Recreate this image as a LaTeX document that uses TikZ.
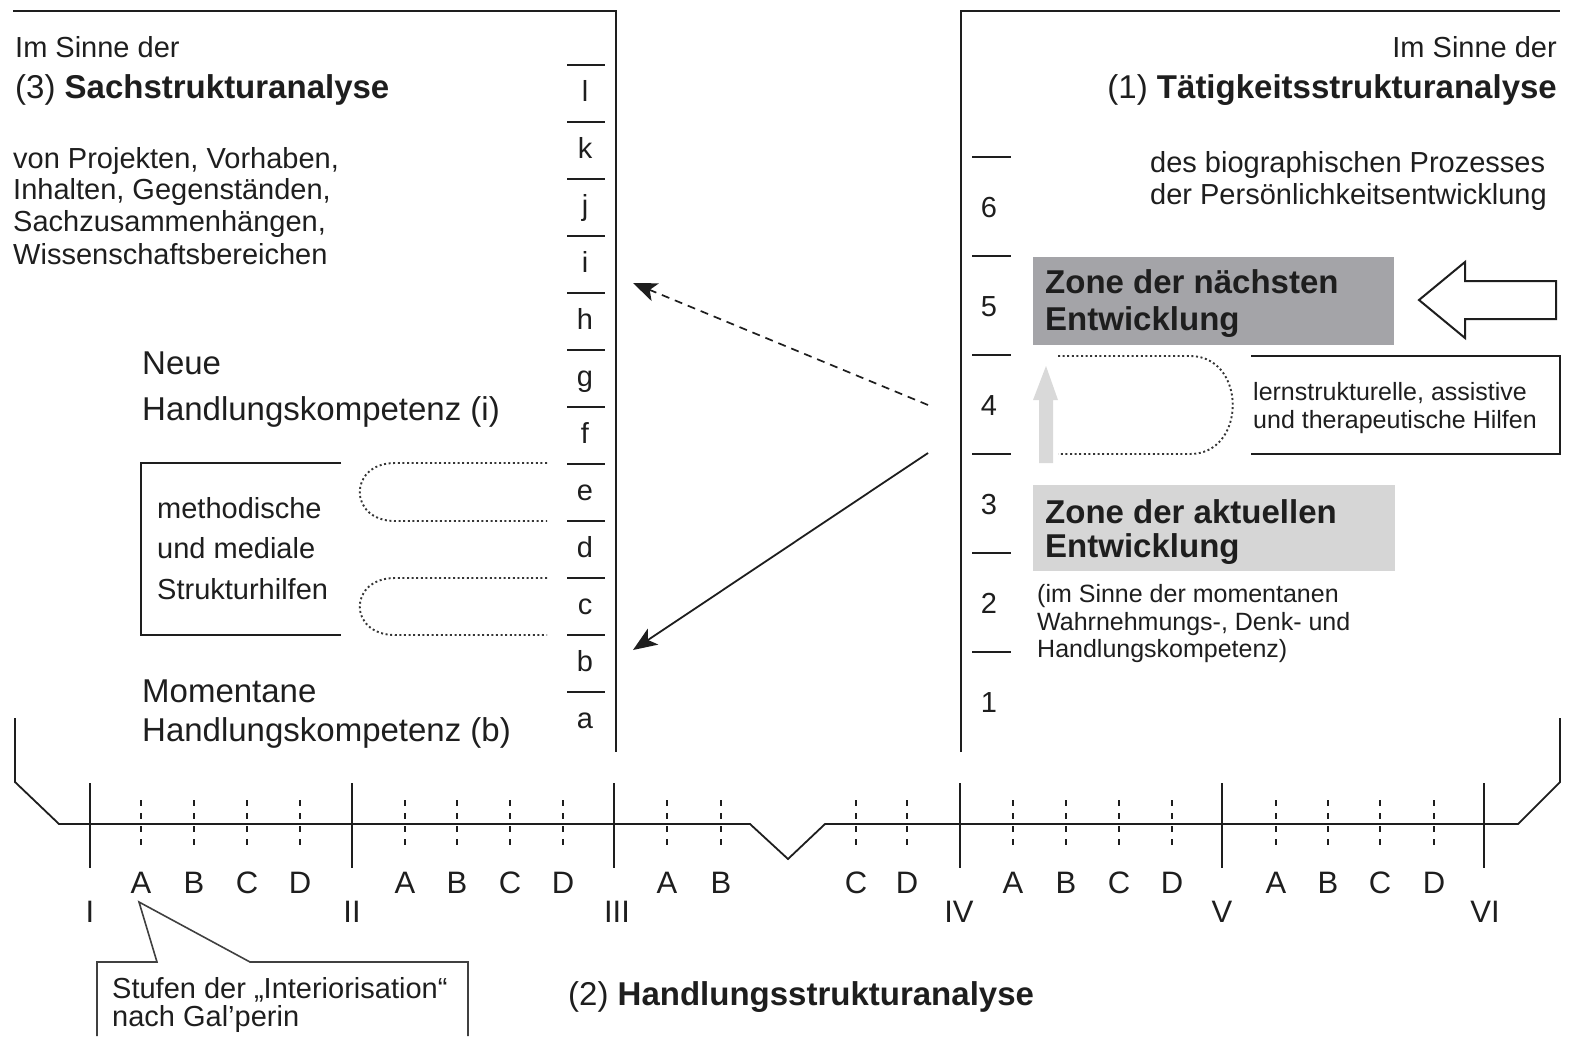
\documentclass[tikz,border=0pt]{standalone}
\usepackage{fontspec}
\setmainfont{Liberation Sans}
\usetikzlibrary{arrows.meta}
\definecolor{ink}{HTML}{1E1E1E}
\definecolor{zonedark}{HTML}{A4A4A8}
\definecolor{zonelight}{HTML}{D6D6D6}
\definecolor{arrowgray}{HTML}{D9D9D9}
\newcommand{\myfs}[1]{\fontsize{#1}{#1}\selectfont}
\begin{document}
\begin{tikzpicture}[x=1pt,y=-1pt,
  frame/.style={line width=1.8pt, draw=ink},
  tick/.style={line width=1.8pt, draw=ink},
  lab/.style={inner sep=0pt, anchor=base west, text=ink, font=\myfs{29}},
  labr/.style={lab, anchor=base east},
  labc/.style={lab, anchor=base},
  big/.style={font=\myfs{33}},
  small/.style={font=\myfs{25}},
  axis/.style={font=\myfs{31}},
  dots/.style={line width=1.9pt, draw=ink!90, dash pattern=on 2pt off 2.6pt},
  minor/.style={line width=1.7pt, draw=ink, dash pattern=on 6pt off 7pt},
  arrowhead/.style={-{Stealth[length=24pt,width=19pt,inset=6pt]}},
]
\useasboundingbox (0,0) rectangle (1570,1036);

% ---------------- left box (3)
\draw[frame] (13,11) -- (616,11) -- (616,752);
\node[lab] (lim) at (15,57) {Im Sinne der};
\node[lab,big] (lsach) at (15,98) {(3) \textbf{Sachstrukturanalyse}};
\node[lab] (lv1) at (13,168) {von Projekten, Vorhaben,};
\node[lab] (lv2) at (13,199) {Inhalten, Gegenständen,};
\node[lab] (lv3) at (13,231) {Sachzusammenhängen,};
\node[lab] (lv4) at (13,264) {Wissenschaftsbereichen};

\foreach \i/\l in {0/l,1/k,2/j,3/i,4/h,5/g,6/f,7/e,8/d,9/c,10/b,11/a}{
  \draw[tick] (567,65+57*\i) -- (605,65+57*\i);
  \node[labc] (lt\i) at (585,101+57*\i) {\l};
}

\node[lab,big] (neu1) at (142,374) {Neue};
\node[lab,big] (neu2) at (142,420) {Handlungskompetenz (i)};
\node[lab,big] (mom1) at (142,702) {Momentane};
\node[lab,big] (mom2) at (142,741) {Handlungskompetenz (b)};

\draw[frame] (341,463) -- (141,463) -- (141,635) -- (341,635);
\node[lab] (m1) at (157,518) {methodische};
\node[lab] (m2) at (157,558) {und mediale};
\node[lab] (m3) at (157,599) {Strukturhilfen};

\draw[dots] (547,463) -- (395,463) .. controls (348,463) and (348,521) .. (395,521) -- (547,521);
\draw[dots] (547,578) -- (395,578) .. controls (348,578) and (348,635) .. (395,635) -- (547,635);

% ---------------- right box (1)
\draw[frame] (961,752) -- (961,11) -- (1560,11);
\node[labr] (rim) at (1557,57) {Im Sinne der};
\node[labr,big] (rtaet) at (1557,98) {(1) \textbf{Tätigkeitsstrukturanalyse}};
\node[lab] (rb1) at (1150,172) {des biographischen Prozesses};
\node[lab] (rb2) at (1150,204) {der Persönlichkeitsentwicklung};

\foreach \j/\n in {0/6,1/5,2/4,3/3,4/2,5/1}{
  \ifnum\j<5 \draw[tick] (972,157+99*\j) -- (1011,157+99*\j);\fi
  \ifnum\j=4 \draw[tick] (972,652) -- (1011,652);\fi
  \node[labc] (rn\j) at (989,217+99*\j) {\n};
}

\node[fill=zonedark, minimum width=361pt, minimum height=88pt, anchor=north west, inner sep=0pt] (zn) at (1033,257) {};
\node[lab,big] (zn1) at (1045,293) {\textbf{Zone der nächsten}};
\node[lab,big] (zn2) at (1045,330) {\textbf{Entwicklung}};

\draw[line width=2pt, draw=ink, fill=white] (1419,300) -- (1465,262) -- (1465,281) -- (1556,281)
  -- (1556,319) -- (1465,319) -- (1465,338) -- cycle;

\fill[arrowgray] (1046,366) -- (1058,400) -- (1053,400) -- (1053,463) -- (1039,463) -- (1039,400) -- (1033,400) -- cycle;
\draw[dots] (1058,356) -- (1190,356) .. controls (1247,356) and (1247,454) .. (1190,454) -- (1058,454);

\draw[frame] (1251,356) -- (1560,356) -- (1560,454) -- (1251,454);
\node[lab,small] (lh1) at (1253,400) {lernstrukturelle, assistive};
\node[lab,small] (lh2) at (1253,428) {und therapeutische Hilfen};

\node[fill=zonelight, minimum width=362pt, minimum height=86pt, anchor=north west, inner sep=0pt] (za) at (1033,485) {};
\node[lab,big] (za1) at (1045,523) {\textbf{Zone der aktuellen}};
\node[lab,big] (za2) at (1045,557) {\textbf{Entwicklung}};

\node[lab,small] (im1) at (1037,602) {(im Sinne der momentanen};
\node[lab,small] (im2) at (1037,630) {Wahrnehmungs-, Denk- und};
\node[lab,small] (im3) at (1037,657) {Handlungskompetenz)};

% ---------------- arrows between the boxes
\coordinate (dstart) at (928,405);
\coordinate (dend) at (633,283);
\coordinate (sstart) at (928,453);
\coordinate (send) at (633,650);
\draw[line width=1.7pt, draw=ink, dash pattern=on 8pt off 6pt, arrowhead] (dstart) -- (dend);
\draw[line width=1.8pt, draw=ink, arrowhead] (sstart) -- (send);

% ---------------- bottom axis (2)
\draw[frame, line join=miter] (15,718) -- (15,782) -- (59,824) -- (750,824) -- (788,859) -- (825,824)
  -- (1518,824) -- (1560,782) -- (1560,718);

\foreach \x in {90,352,614,960,1222,1484}{
  \draw[tick] (\x,783) -- (\x,868);
}
\node[labc,axis] (r1) at (90,922) {I};
\node[labc,axis] (r2) at (352,922) {II};
\node[labc,axis] (r3) at (617,922) {III};
\node[labc,axis] (r4) at (959,922) {IV};
\node[labc,axis] (r5) at (1222,922) {V};
\node[labc,axis] (r6) at (1485,922) {VI};

\foreach \x/\s [count=\k] in {141/A,194/B,247/C,300/D,405/A,457/B,510/C,563/D,667/A,721/B,856/C,907/D,1013/A,1066/B,1119/C,1172/D,1276/A,1328/B,1380/C,1434/D}{
  \draw[minor] (\x,800) -- (\x,852);
  \node[labc,axis] (st\k) at (\x,893) {\s};
}

% callout
\draw[line width=1.6pt, draw=ink!85] (97,1036) -- (97,962) -- (157,962) -- (139,902) -- (250,962) -- (468,962) -- (468,1036);
\node[lab] (c1) at (112,998) {Stufen der „Interiorisation“};
\node[lab] (c2) at (112,1026) {nach Gal’perin};

\node[lab,big] (hsa) at (568,1005) {(2) \textbf{Handlungsstrukturanalyse}};
\end{tikzpicture}
\end{document}
